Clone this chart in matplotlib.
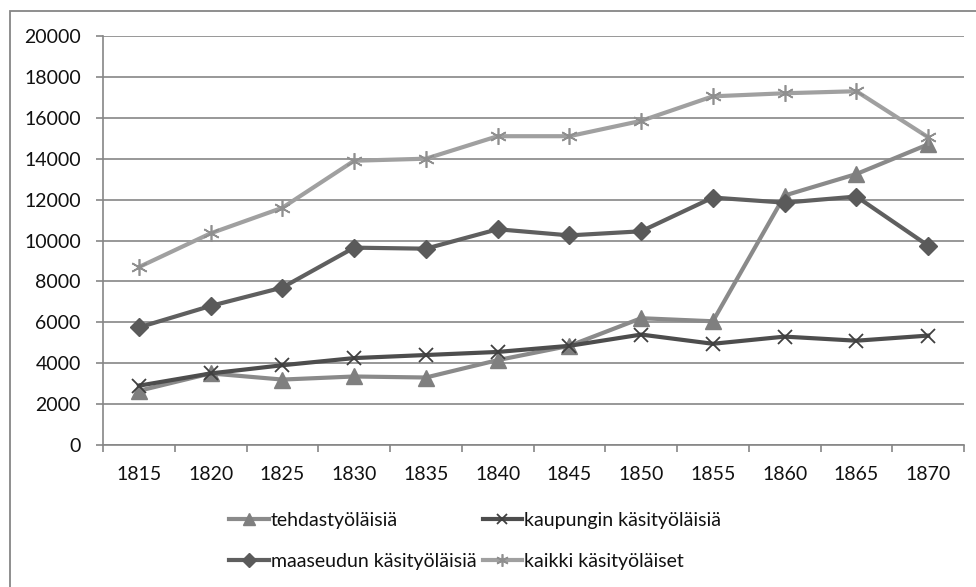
import numpy as np
import matplotlib.pyplot as plt
from matplotlib.patches import Rectangle

plt.rcParams['font.family'] = ['Lato', 'DejaVu Sans']

# vuodet ja sarjat
years = ['1815', '1820', '1825', '1830', '1835', '1840', '1845', '1850', '1855', '1860', '1865', '1870']
tehdas = [2650, 3500, 3200, 3350, 3300, 4150, 4850, 6200, 6050, 12200, 13250, 14700]
kaupunki = [2900, 3500, 3900, 4250, 4400, 4550, 4850, 5400, 4950, 5300, 5100, 5350]
maaseutu = [5750, 6800, 7700, 9650, 9600, 10550, 10250, 10450, 12100, 11850, 12150, 9750]
kaikki = [8700, 10350, 11600, 13900, 14000, 15100, 15100, 15850, 17050, 17200, 17300, 15050]

W, H = 976, 587
fig = plt.figure(figsize=(W / 100, H / 100), dpi=100)
ax = fig.add_axes([103 / W, 1 - 445 / H, 861 / W, 409 / H])

# ulkoreunus
fig.patches.append(Rectangle((10 / W, -0.1), 1.2, 1 - 11 / H + 0.1, transform=fig.transFigure,
                             fill=False, edgecolor='#868686', lw=1.3))

x = np.arange(len(years))
fs = 14
tc = '#111111'
l1, = ax.plot(x, tehdas, color='#8a8a8a', lw=3, marker='^', ms=11, mfc='#7f7f7f', mec='#7f7f7f', label='tehdastyöläisiä')
l2, = ax.plot(x, kaupunki, color='#4d4d4d', lw=3, marker='x', ms=10, mec='#3f3f3f', mew=1.3, label='kaupungin käsityöläisiä')
l3, = ax.plot(x, maaseutu, color='#5f5f5f', lw=3, marker='D', ms=9, mfc='#5a5a5a', mec='#5a5a5a', label='maaseudun käsityöläisiä')
l4, = ax.plot(x, kaikki, color='#a0a0a0', lw=3, marker=(6, 2, 0), ms=12, mec='#8f8f8f', mew=1.2, label='kaikki käsityöläiset')

ax.set_xlim(-0.5, len(years) - 0.5)
ax.set_ylim(0, 20000)
ax.set_yticks(np.arange(0, 20001, 2000))
ax.set_yticklabels([str(v) for v in range(0, 20001, 2000)], fontsize=fs, color=tc)
ax.set_xticks(x)
ax.set_xticklabels(years, fontsize=fs, color=tc)
ax.set_xticks(np.arange(-0.5, len(years), 1), minor=True)
ax.tick_params(axis='x', which='major', length=0, pad=15)
ax.tick_params(axis='x', which='minor', length=5, width=1.2, color='#868686')
ax.tick_params(axis='y', length=5, width=1.2, color='#868686', pad=11)

ax.yaxis.grid(True, color='#868686', lw=1.2)
ax.set_axisbelow(True)
for s in ['top', 'right']:
    ax.spines[s].set_visible(False)
for s in ['left', 'bottom']:
    ax.spines[s].set_color('#868686')
    ax.spines[s].set_linewidth(1.2)

leg = fig.legend([l1, l3, l2, l4], [l1.get_label(), l3.get_label(), l2.get_label(), l4.get_label()],
                 ncol=2, loc='center', bbox_to_anchor=(0.487, 1 - 541 / H), frameon=False,
                 fontsize=fs, handlelength=2.05, handletextpad=0.1, columnspacing=0.3,
                 labelspacing=1.25, markerscale=0.75)
for t in leg.get_texts():
    t.set_color(tc)

fig.savefig('out.png', dpi=100)
